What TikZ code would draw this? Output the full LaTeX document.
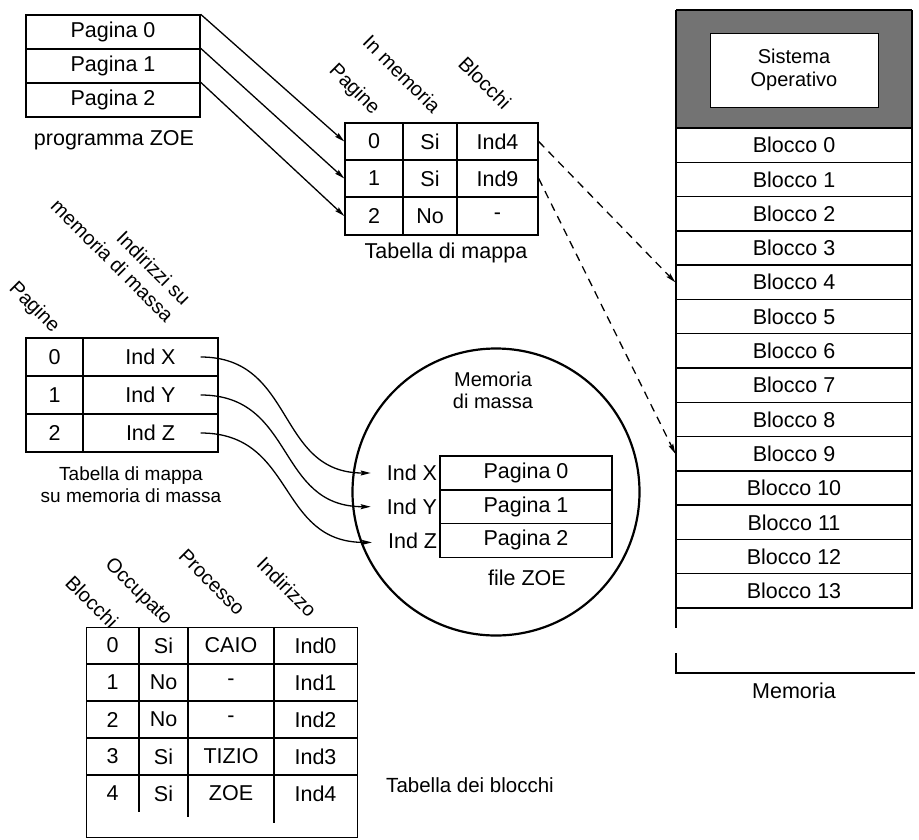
\documentclass[tikz,border=0pt]{standalone}
\usepackage{fontspec}
\setmainfont{Liberation Sans}
\usetikzlibrary{arrows.meta,calc}
\begin{document}
\begin{tikzpicture}[x=1pt,y=-1pt,
  every node/.style={font=\fontsize{21.5}{25}\selectfont},
  ln/.style={line width=1.4pt},
  cell/.style={draw,line width=1.4pt,inner sep=0pt,minimum height=#1},
  cell/.default=34pt,
  txt/.style={inner sep=0pt},
  hdr/.style={inner sep=0pt,rotate=-45,font=\fontsize{20}{24}\selectfont},
  arr/.style={line width=1.3pt,-{Stealth[length=10pt,width=5pt,inset=1.5pt]}},
  dsh/.style={arr,dash pattern=on 8pt off 6pt}]
\useasboundingbox (0,0) rectangle (919,839);

% ---------------- programma ZOE
\node[cell=34pt,minimum width=174pt] (p0) at (113,32) {Pagina 0};
\node[cell=34pt,minimum width=174pt] (p1) at (113,66) {Pagina 1};
\node[cell=34pt,minimum width=174pt] (p2) at (113,100) {Pagina 2};
\node[txt] (pz) at (114,140) {programma ZOE};

% ---------------- tabella di mappa
\node[hdr] (hp) at (354,90) {Pagine};
\node[hdr] (hm) at (402,74) {In memoria};
\node[hdr] (hb) at (485,83) {Blocchi};
\node[cell=37pt,minimum width=58pt] (m0) at (374,141.5) {0};
\node[cell=37pt,minimum width=54pt] (s0) at (430,141.5) {Si};
\node[cell=37pt,minimum width=81pt] (i0) at (497.5,141.5) {Ind4};
\node[cell=37pt,minimum width=58pt] (m1) at (374,178.5) {1};
\node[cell=37pt,minimum width=54pt] (s1) at (430,178.5) {Si};
\node[cell=37pt,minimum width=81pt] (i1) at (497.5,178.5) {Ind9};
\node[cell=38pt,minimum width=58pt] (m2) at (374,216) {2};
\node[cell=38pt,minimum width=54pt] (s2) at (430,216) {No};
\node[cell=38pt,minimum width=81pt] (i2) at (497.5,216) {-};
\node[txt] (tm) at (446,253) {Tabella di mappa};

\draw[arr] (p0.north east) -- (m0.west);
\draw[arr] (p1.north east) -- (m1.west);
\draw[arr] (p2.north east) -- (m2.west);

% ---------------- memoria
\fill[black!55] (676,10) rectangle (912,128);
\draw[ln] (676,10) -- (912,10);
\node[draw,fill=white,line width=1pt,minimum width=168pt,minimum height=74pt,align=center,
      font=\fontsize{20}{23}\selectfont] (so) at (794,70) {Sistema\\Operativo};
\foreach \i in {0,...,13}{
  \node[cell=34.29pt,minimum width=236pt] (b\i) at (794,{128+34.29*\i+17.14}) {Blocco \i};
}
\draw[ln] (676,10) -- (676,628);
\draw[ln] (912,10) -- (912,608);
\draw[ln] (676,653) -- (676,673) -- (915,673);
\node[txt] (mem) at (794,691) {Memoria};

\draw[dsh] (i0.east) -- (b4.west);
\draw[dsh] (i1.east) -- (b9.west);

% ---------------- tabella su memoria di massa
\node[hdr] (hp2) at (34,308) {Pagine};
\node[hdr,align=right] (hi2) at (121,252) {Indirizzi su\\memoria di massa};
\node[cell=38pt,minimum width=57pt] (q0) at (54.5,357) {0};
\node[cell=38pt,minimum width=135pt] (x0) at (150.5,357) {Ind X\hspace{4pt}};
\node[cell=38pt,minimum width=57pt] (q1) at (54.5,395) {1};
\node[cell=38pt,minimum width=135pt] (x1) at (150.5,395) {Ind Y\hspace{4pt}};
\node[cell=38pt,minimum width=57pt] (q2) at (54.5,433) {2};
\node[cell=38pt,minimum width=135pt] (x2) at (150.5,433) {Ind Z\hspace{4pt}};
\node[txt,align=center,font=\fontsize{19}{22}\selectfont] (tmm) at (131,485) {Tabella di mappa\\su memoria di massa};

% ---------------- memoria di massa
\node[circle,draw,line width=2.2pt,minimum size=287pt,inner sep=0pt] (disk) at (496,492) {};
\node[txt,align=center,font=\fontsize{20}{22}\selectfont] (dl) at (493,390) {Memoria\\di massa};
\node[cell=33.7pt,minimum width=172pt] (f0) at (526,473) {Pagina 0};
\node[cell=33.7pt,minimum width=172pt] (f1) at (526,506.7) {Pagina 1};
\node[cell=33.7pt,minimum width=172pt] (f2) at (526,540.4) {Pagina 2};
\node[anchor=east,inner sep=2pt] (ix) at (f0.west) {Ind X};
\node[anchor=east,inner sep=2pt] (iy) at (f1.west) {Ind Y};
\node[anchor=east,inner sep=2pt] (iz) at (f2.west) {Ind Z};
\node[txt] (fz) at (527,578) {file ZOE};

\coordinate (sx) at ($(x0.east)+(-18,0)$);
\coordinate (sy) at ($(x1.east)+(-18,0)$);
\coordinate (sz) at ($(x2.east)+(-18,0)$);
\coordinate (ex) at ($(ix.west)+(-14,0)$);
\coordinate (ey) at ($(iy.west)+(-14,0)$);
\coordinate (ez) at ($(iz.west)+(-14,2)$);
\draw[arr] (sx) .. controls +(95,0) and +(-95,0) .. (ex);
\draw[arr] (sy) .. controls +(95,0) and +(-95,0) .. (ey);
\draw[arr] (sz) .. controls +(95,0) and +(-95,0) .. (ez);

% ---------------- tabella dei blocchi
\node[hdr] (hb3) at (92,602) {Blocchi};
\node[hdr] (ho3) at (138,592) {Occupato};
\node[hdr] (hp3) at (212,582) {Processo};
\node[hdr] (hi3) at (287,587) {Indirizzo};
\node[draw,line width=1.4pt,minimum width=271pt,minimum height=210pt,anchor=north west,inner sep=0pt] (bt) at (86,627) {};
\foreach \y in {664,701,738,775}{ \draw[ln] (86,\y) -- (357,\y); }
\draw[ln] (139,627) -- (139,812);
\draw[ln] (188,627) -- (188,817);
\draw[ln] (274,627) -- (274,823);
\foreach \r/\a/\b/\c/\d in {0/0/Si/CAIO/Ind0,1/1/No/-/Ind1,2/2/No/-/Ind2,3/3/Si/TIZIO/Ind3,4/4/Si/ZOE/Ind4}{
  \node[txt] (ta\r) at (112.5,{645.5+37*\r}) {\a};
  \node[txt] (tb\r) at (163.5,{645.5+37*\r}) {\b};
  \node[txt] (tc\r) at (231,{645.5+37*\r}) {\c};
  \node[txt] (td\r) at (315.5,{645.5+37*\r}) {\d};
}
\node[txt,font=\fontsize{20.5}{24}\selectfont] (tdb) at (470,785) {Tabella dei blocchi};
\end{tikzpicture}
\end{document}
